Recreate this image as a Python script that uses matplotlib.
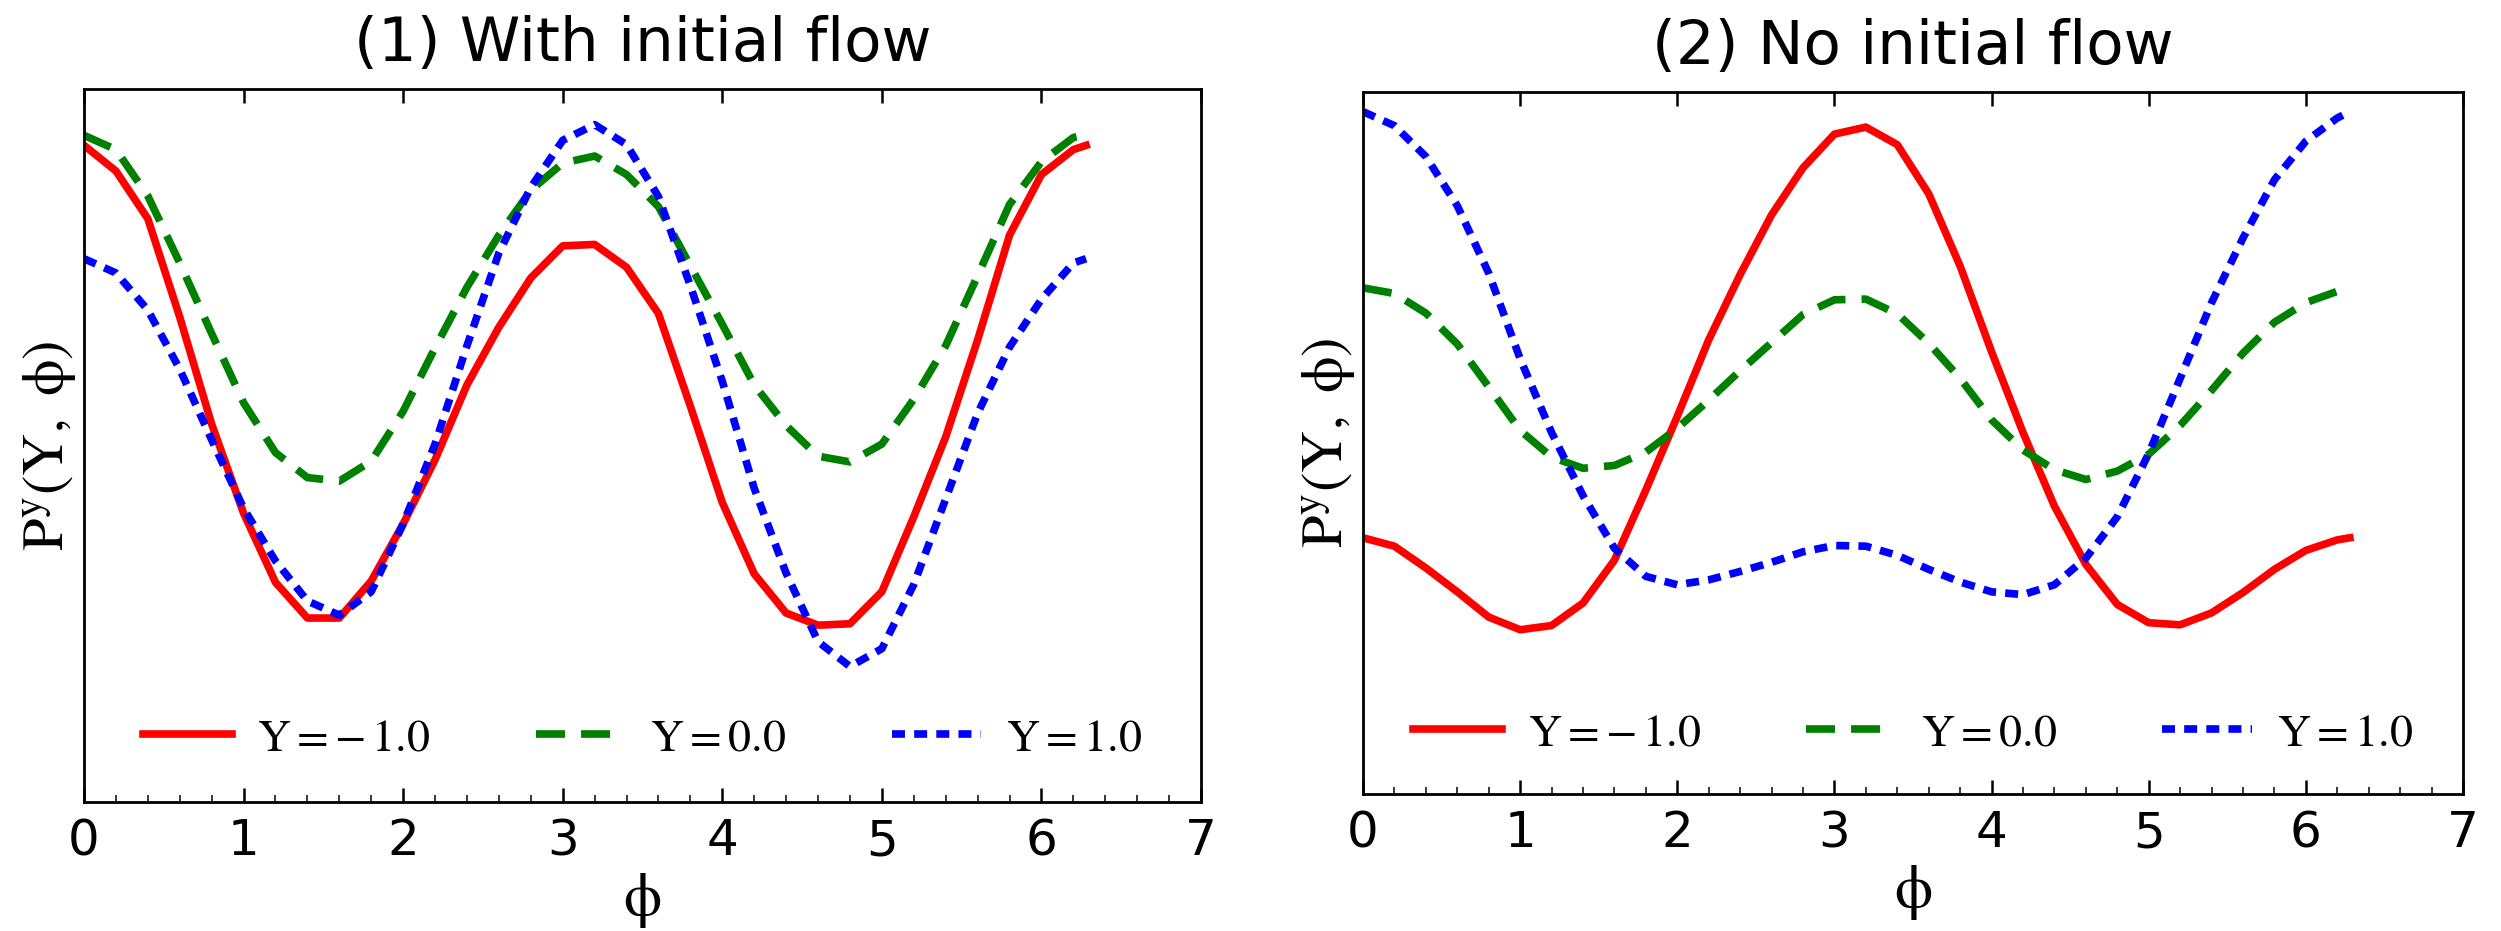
import numpy as np
import matplotlib
matplotlib.use("Agg")
import matplotlib.pyplot as plt
from matplotlib.ticker import MultipleLocator, NullLocator

plt.rcParams['mathtext.fontset'] = 'stix'
plt.rcParams['font.family'] = ['DejaVu Sans']

# ---------------- data ----------------
phi = [0.0, 0.2, 0.4, 0.6, 0.8, 1.0, 1.2, 1.4, 1.6, 1.8, 2.0, 2.2, 2.4, 2.6,
       2.8, 3.0, 3.2, 3.4, 3.6, 3.8, 4.0, 4.2, 4.4, 4.6, 4.8, 5.0, 5.2, 5.4,
       5.6, 5.8, 6.0, 6.2, 6.28]

# (1) With initial flow
flow_m1 = [0.921, 0.885, 0.818, 0.680, 0.530, 0.405, 0.308, 0.258, 0.258, 0.310,
           0.390, 0.480, 0.585, 0.666, 0.735, 0.780, 0.782, 0.750, 0.685, 0.555,
           0.420, 0.320, 0.265, 0.248, 0.250, 0.295, 0.400, 0.512, 0.648, 0.795,
           0.880, 0.915, 0.921]
flow_0 = [0.935, 0.915, 0.850, 0.756, 0.657, 0.560, 0.490, 0.455, 0.450, 0.478,
          0.548, 0.637, 0.722, 0.795, 0.858, 0.896, 0.906, 0.880, 0.835, 0.752,
          0.670, 0.585, 0.528, 0.485, 0.477, 0.502, 0.565, 0.640, 0.738, 0.838,
          0.898, 0.932, 0.936]
flow_p1 = [0.762, 0.742, 0.690, 0.607, 0.508, 0.412, 0.338, 0.282, 0.262, 0.295,
           0.390, 0.502, 0.640, 0.770, 0.862, 0.928, 0.950, 0.922, 0.849, 0.724,
           0.590, 0.440, 0.321, 0.225, 0.190, 0.215, 0.305, 0.425, 0.545, 0.638,
           0.705, 0.756, 0.762]

# (2) No initial flow
noflow_m1 = [0.365, 0.353, 0.322, 0.288, 0.252, 0.234, 0.240, 0.272, 0.333, 0.433,
             0.538, 0.647, 0.740, 0.825, 0.892, 0.940, 0.950, 0.925, 0.855, 0.752,
             0.630, 0.515, 0.410, 0.327, 0.270, 0.244, 0.241, 0.258, 0.287, 0.320,
             0.347, 0.362, 0.365]
noflow_0 = [0.721, 0.713, 0.685, 0.641, 0.580, 0.518, 0.480, 0.464, 0.468, 0.487,
            0.521, 0.561, 0.603, 0.643, 0.683, 0.704, 0.705, 0.684, 0.642, 0.592,
            0.533, 0.490, 0.462, 0.448, 0.460, 0.484, 0.525, 0.575, 0.628, 0.672,
            0.700, 0.716, 0.721]
noflow_p1 = [0.972, 0.952, 0.908, 0.838, 0.742, 0.620, 0.515, 0.425, 0.350, 0.310,
             0.298, 0.305, 0.317, 0.330, 0.345, 0.354, 0.353, 0.340, 0.320, 0.302,
             0.288, 0.284, 0.298, 0.336, 0.395, 0.485, 0.592, 0.700, 0.792, 0.875,
             0.930, 0.963, 0.972]

labels = [r'$\mathrm{Y=-\,1.0}$', r'$\mathrm{Y=0.0}$', r'$\mathrm{Y=1.0}$']
titles = ['(1) With initial flow', '(2) No initial flow']
xticks = [0, 1, 2, 3, 4, 5, 6, 7]

# ---------------- figure ----------------
W, H = 2501, 931
fig = plt.figure(figsize=(W / 100, H / 100), dpi=100)


def px_axes(x0, x1, ytop, ybot):
    return [x0 / W, 1 - ybot / H, (x1 - x0) / W, (ybot - ytop) / H]


ax1 = fig.add_axes(px_axes(84, 1201, 89, 802))
ax2 = fig.add_axes(px_axes(1363, 2463, 92, 794))

panels = [(ax1, titles[0], [flow_m1, flow_0, flow_p1], 0.090),
          (ax2, titles[1], [noflow_m1, noflow_0, noflow_p1], 0.087)]

LW = 5.5
for ax, title, series, leg_y in panels:
    ax.plot(phi, series[0], color='#ff0000', lw=LW, solid_joinstyle='round',
            label=labels[0])
    l2, = ax.plot(phi, series[1], color='#008000', lw=LW, label=labels[1])
    l2.set_dashes((3.8, 2.1))
    l3, = ax.plot(phi, series[2], color='#0000ff', lw=LW, label=labels[2])
    l3.set_dashes((1.7, 1.2))

    ax.set_xlim(0, 7)
    ax.set_ylim(0, 1)
    ax.set_xticks(xticks)
    ax.xaxis.set_minor_locator(MultipleLocator(0.2))
    ax.yaxis.set_major_locator(NullLocator())
    ax.tick_params(axis='x', which='major', direction='in', length=10, width=1.8,
                   labelsize=36, pad=11, top=True)
    ax.tick_params(axis='x', which='minor', direction='in', length=5, width=1.1,
                   top=False)
    for sp in ax.spines.values():
        sp.set_linewidth(2)

    ax.set_title(title, fontsize=44, pad=20)
    ax.set_xlabel(r'$\mathrm{\phi}$', fontsize=44, labelpad=4)
    ax.set_ylabel(r'$\mathrm{P^{y}(Y,\ \phi)}$', fontsize=42, labelpad=4)

    ax.legend(loc='center', bbox_to_anchor=(0.5, leg_y), ncol=3, frameon=False,
              fontsize=33, handlelength=1.95, handletextpad=0.55,
              columnspacing=2.3)

fig.savefig('out.png', dpi=100)
